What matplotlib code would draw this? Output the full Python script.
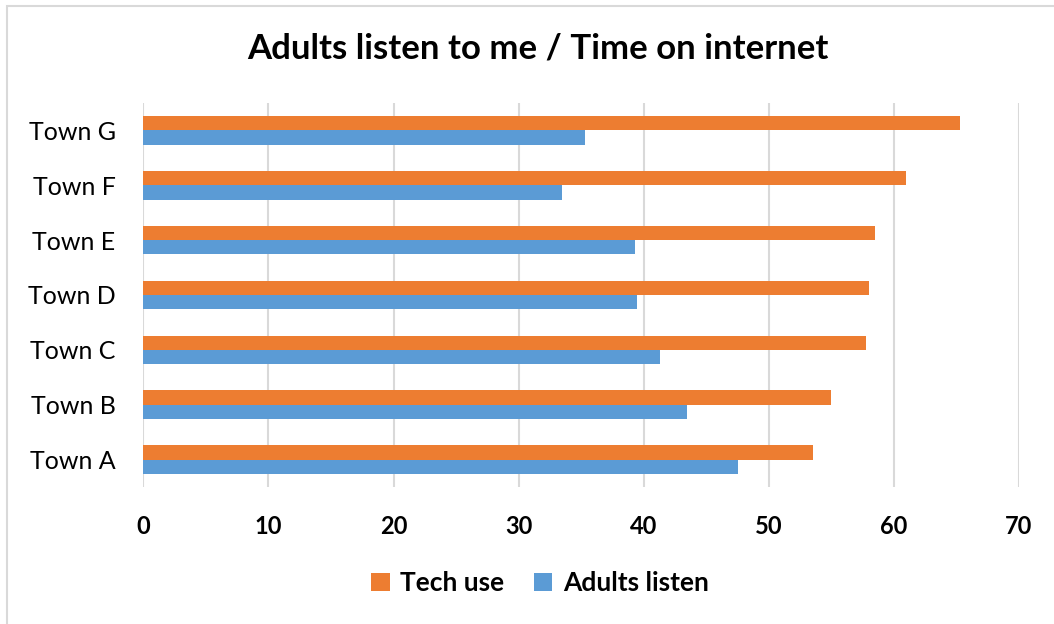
import numpy as np
import matplotlib.pyplot as plt
from matplotlib.patches import Rectangle

plt.rcParams['font.family'] = ['Lato', 'DejaVu Sans']

towns = ['Town A', 'Town B', 'Town C', 'Town D', 'Town E', 'Town F', 'Town G']
tech_use = [53.5, 55.0, 57.8, 58.0, 58.5, 61.0, 65.3]
adults_listen = [47.5, 43.5, 41.3, 39.5, 39.3, 33.5, 35.3]
xticks = [0, 10, 20, 30, 40, 50, 60, 70]

orange = '#ed7d31'
blue = '#5b9bd5'

fig = plt.figure(figsize=(10.54, 6.24), dpi=100)
# light frame; right and bottom edges fall outside the picture
fig.patches.append(Rectangle((7 / 1054, -0.05), 1.1, 1 - 6 / 624 + 0.05, transform=fig.transFigure,
                             fill=False, edgecolor='#d9d9d9', lw=1.5))
ax = fig.add_axes([143.3 / 1054, 1 - 487 / 624, (1019 - 143.3) / 1054, (487 - 103) / 624])

y = np.arange(len(towns))
h = 0.26
ax.barh(y + h / 2, tech_use, height=h, color=orange, label='Tech use', zorder=3)
ax.barh(y - h / 2, adults_listen, height=h, color=blue, label='Adults listen', zorder=3)

ax.set_xlim(0, 70)
ax.set_ylim(-0.5, len(towns) - 0.5)
ax.set_xticks(xticks)
ax.set_xticklabels([str(t) for t in xticks], fontsize=17, fontweight='bold')
ax.set_yticks(y)
ax.set_yticklabels(towns, fontsize=18)
ax.tick_params(axis='x', length=0, pad=20)
ax.tick_params(axis='y', length=0, pad=20)
ax.grid(axis='x', color='#d9d9d9', lw=1.5, zorder=0)
for s in ax.spines.values():
    s.set_visible(False)

fig.text(0.51, 1 - 49 / 624, 'Adults listen to me / Time on internet', ha='center', va='center',
         fontsize=25, fontweight='bold')

fig.legend(loc='center', bbox_to_anchor=(540 / 1054, 1 - 583 / 624), ncol=2, frameon=False,
           prop={'size': 19, 'weight': 'bold'}, handlelength=0.7, handleheight=0.7,
           columnspacing=1.1, handletextpad=0.4)

fig.savefig('out.png', dpi=100)
